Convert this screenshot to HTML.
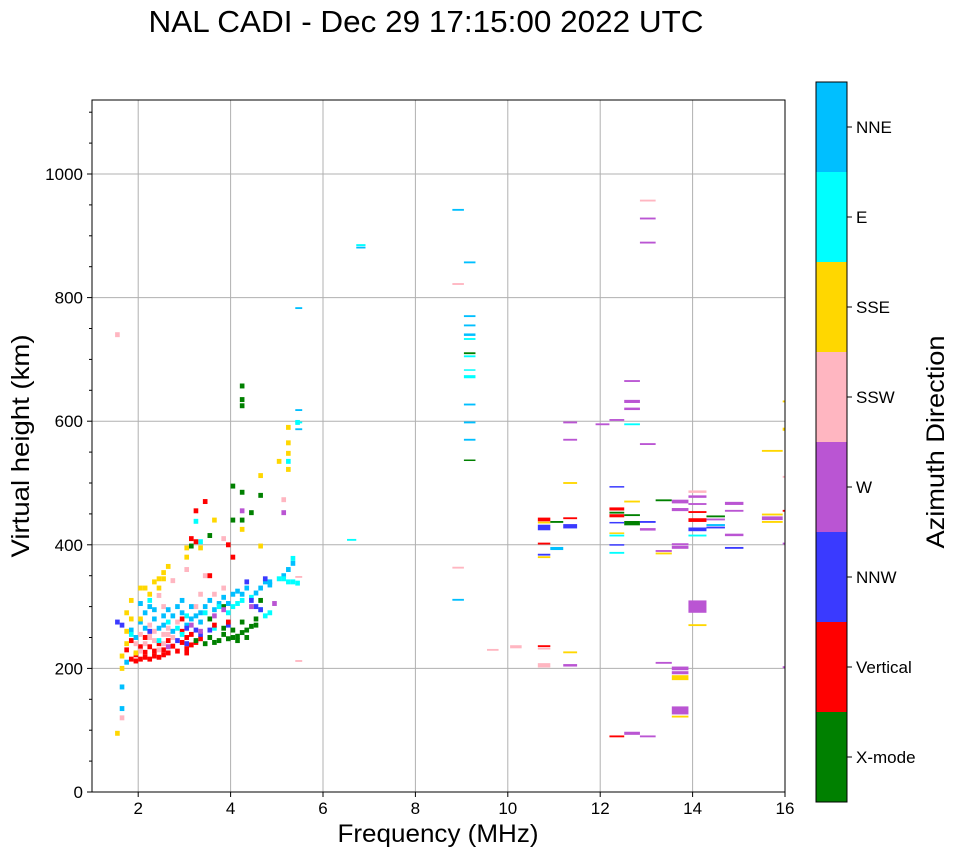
<!DOCTYPE html>
<html><head><meta charset="utf-8"><style>
body{margin:0;background:#fff;}
svg text{font-family:"Liberation Sans",sans-serif;fill:#000;}
</style></head><body>
<svg id="chart" width="958" height="857" viewBox="0 0 958 857" xmlns="http://www.w3.org/2000/svg">
<text x="426" y="32" font-size="31" text-anchor="middle" textLength="555" lengthAdjust="spacingAndGlyphs">NAL CADI - Dec 29 17:15:00 2022 UTC</text>
<g id="grid"></g>
<g id="marks"></g>
<rect x="92" y="100" width="693" height="692" fill="none" stroke="#000" stroke-width="1"/>
<g id="axes"></g>
<text x="438" y="842" font-size="25" text-anchor="middle" textLength="201" lengthAdjust="spacingAndGlyphs">Frequency (MHz)</text>
<text transform="translate(29,446) rotate(-90)" font-size="25" text-anchor="middle" textLength="223" lengthAdjust="spacingAndGlyphs">Virtual height (km)</text>
<g id="cbar"></g>
<text transform="translate(944,442) rotate(-90)" font-size="25" text-anchor="middle" textLength="213" lengthAdjust="spacingAndGlyphs">Azimuth Direction</text>
</svg>
<script>
const categories = ["X-mode","Vertical","NNW","W","SSW","SSE","E","NNE"];
const catColors = ["#008000","#ff0000","#3a3aff","#ba55d3","#ffb6c1","#ffd700","#00ffff","#00bfff"];
const xTicks = [2,4,6,8,10,12,14,16];
const yTicks = [0,200,400,600,800,1000];
// dense cells: [freq MHz, height km, category]
const denseCells = [
[1.8,215,1],[1.9,212,1],[2.0,215,1],[2.1,218,1],[2.2,215,1],[2.3,220,1],[2.4,218,1],[2.5,222,1],[2.6,225,1],[2.8,228,1],[3.0,232,1],[3.1,238,1],[3.2,242,1],[2.2,235,1],[2.4,240,1],[2.1,250,1],[2.6,245,1],[3.0,250,1],[2.9,260,1],[3.3,248,1],[1.7,230,1],[1.8,245,1],[2.0,235,1],
[2.3,228,1],[2.5,230,1],[2.7,236,1],[2.9,242,1],[3.1,255,1],[1.9,222,1],[2.1,226,1],[3.0,225,1],
[3.4,240,0],[3.6,242,0],[3.7,245,0],[3.9,248,0],[4.0,250,0],[4.1,252,0],[4.2,258,0],[4.3,262,0],[4.4,268,0],[4.5,270,0],[4.0,262,0],[4.2,275,0],[3.8,265,0],[4.5,280,0],[4.6,310,0],[3.5,280,0],[4.2,440,0],[4.2,657,0],[4.2,635,0],[4.2,625,0],[4.0,495,0],[4.2,485,0],[4.6,480,0],[4.4,452,0],[3.5,415,0],[3.1,398,0],[3.8,300,0],
[3.5,250,0],[3.8,255,0],[4.1,245,0],[4.3,250,0],[4.0,440,0],[3.2,245,0],
[2.1,240,4],[2.2,250,4],[2.3,260,4],[2.5,255,4],[2.6,265,4],[2.2,270,4],[2.0,255,4],[2.8,275,4],[2.5,300,4],[2.4,318,4],[2.7,342,4],[3.0,360,4],[3.4,350,4],[3.6,320,4],[3.2,300,4],[1.9,240,4],[1.6,120,4],[1.5,740,4],[5.1,473,4],[3.8,410,4],
[2.3,245,4],[2.4,230,4],[2.5,240,4],[2.7,250,4],[2.2,258,4],[2.6,255,4],[2.0,228,4],[3.3,320,4],[3.8,330,4],
[1.9,250,7],[2.0,275,7],[2.1,290,7],[2.2,300,7],[2.3,280,7],[2.4,265,7],[2.5,285,7],[2.6,295,7],[2.8,300,7],[2.9,310,7],[3.1,300,7],[3.3,290,7],[3.5,310,7],[3.7,305,7],[3.8,315,7],[4.0,320,7],[4.1,325,7],[4.3,330,7],[4.6,330,7],[4.7,340,7],[4.8,335,7],[5.1,350,7],[5.3,370,7],[2.0,305,7],[1.6,170,7],[1.6,135,7],[3.2,285,7],[4.5,322,7],[2.7,260,7],[3.0,270,7],
[2.1,265,7],[2.3,295,7],[2.5,270,7],[2.7,285,7],[2.9,290,7],[3.1,280,7],[3.3,275,7],[3.4,300,7],[3.6,295,7],[3.9,305,7],[4.2,320,7],[4.8,340,7],[5.2,360,7],[1.8,262,7],[1.7,210,7],
[2.2,310,6],[2.6,275,6],[3.0,285,6],[3.3,405,6],[3.2,438,6],[4.0,300,6],[4.2,310,6],[4.4,315,6],[4.6,295,6],[5.0,345,6],[5.2,340,6],[5.4,338,6],[5.3,378,6],[5.2,535,6],[5.4,598,6],[1.8,255,6],[2.4,245,6],[3.6,265,6],[2.9,255,6],[4.7,285,6],
[3.4,290,6],[3.7,300,6],[3.9,290,6],[4.1,305,6],[5.1,345,6],[5.3,340,6],[2.8,265,6],[4.8,290,6],
[1.6,270,2],[2.2,260,2],[2.8,245,2],[3.0,240,2],[3.3,255,2],[3.5,262,2],[3.9,270,2],[4.4,310,2],[4.6,295,2],[4.3,340,2],[4.7,345,2],[3.0,265,2],[1.5,275,2],
[3.2,262,2],[4.5,300,2],
[2.6,235,3],[3.1,270,3],[3.6,285,3],[4.4,300,3],[4.9,305,3],[3.8,295,3],[4.2,455,3],[5.1,452,3],[3.3,260,3],
[1.5,95,5],[1.6,200,5],[1.7,260,5],[1.7,290,5],[1.8,310,5],[1.9,225,5],[2.0,330,5],[2.2,320,5],[2.3,340,5],[2.4,345,5],[2.5,355,5],[2.6,365,5],[2.0,280,5],[3.0,395,5],[3.0,380,5],[3.3,395,5],[3.6,440,5],[4.2,425,5],[4.6,512,5],[4.6,398,5],[5.2,522,5],[5.2,548,5],[5.2,565,5],[5.2,590,5],[5.0,535,5],[2.4,330,5],
[1.6,220,5],[1.7,240,5],[1.8,280,5],[2.1,330,5],[2.5,345,5],
[3.1,410,1],[3.2,405,1],[3.4,470,1],[3.2,455,1],[3.9,400,1],[3.5,350,1],[2.9,280,1],[3.6,270,1],[4.0,380,1],[3.9,275,1]
];
// wide cells: [freq start, freq end, height km, span km, category]
const wideCells = [
[10.65,10.92,441,6,1],[10.65,10.92,436,3,5],[10.65,10.92,428,9,2],[10.65,10.92,402,3,1],[10.65,10.92,384,3,2],[10.65,10.92,380,3,5],[10.65,10.92,236,3,1],[10.65,10.92,232,3,4],[10.65,10.92,205,7,4],
[10.92,11.2,437,3,0],[10.92,11.2,394,5,7],[11.2,11.5,598,3,3],[11.2,11.5,570,3,3],[11.2,11.5,500,3,5],[11.2,11.5,443,3,1],[11.2,11.5,430,7,2],[11.2,11.5,226,3,5],[11.2,11.5,205,4,3],
[11.9,12.2,595,3,3],[12.2,12.52,602,3,3],[12.2,12.52,494,2,2],[12.2,12.52,458,5,1],[12.2,12.52,452,3,0],[12.2,12.52,447,5,1],[12.2,12.52,436,2,2],[12.2,12.52,415,3,6],[12.2,12.52,419,2,5],[12.2,12.52,400,2,2],[12.2,12.52,387,3,6],[12.2,12.52,90,3,1],
[12.52,12.86,665,3,3],[12.52,12.86,632,5,3],[12.52,12.86,620,4,3],[12.52,12.86,595,3,6],[12.52,12.86,470,3,5],[12.52,12.86,448,3,0],[12.52,12.86,435,7,0],[12.52,12.86,95,5,3],
[12.86,13.2,957,3,4],[12.86,13.2,928,3,3],[12.86,13.2,889,3,3],[12.86,13.2,563,3,3],[12.86,13.2,437,3,2],[12.86,13.2,425,4,3],[12.86,13.2,90,3,3],
[13.2,13.55,472,3,0],[13.2,13.55,209,3,3],[13.2,13.55,390,3,3],[13.2,13.55,386,3,5],
[13.55,13.91,470,6,3],[13.55,13.91,457,5,3],[13.55,13.91,401,3,3],[13.55,13.91,396,5,3],[13.55,13.91,200,6,3],[13.55,13.91,193,5,3],[13.55,13.91,185,8,5],[13.55,13.91,132,13,3],[13.55,13.91,122,3,5],
[13.91,14.3,486,4,4],[13.91,14.3,478,4,3],[13.91,14.3,466,3,3],[13.91,14.3,453,3,1],[13.91,14.3,440,6,1],[13.91,14.3,425,6,2],[13.91,14.3,415,3,6],[13.91,14.3,300,20,3],[13.91,14.3,270,3,5],
[14.3,14.7,446,3,0],[14.3,14.7,441,3,3],[14.3,14.7,432,3,7],[14.3,14.7,428,3,2],
[14.7,15.1,467,5,3],[14.7,15.1,455,3,3],[14.7,15.1,416,4,3],[14.7,15.1,395,3,2],
[15.5,15.95,552,3,5],[15.5,15.95,449,3,5],[15.5,15.95,443,6,3],[15.5,15.95,437,3,5],
[15.95,16,632,3,5],[15.95,16,587,5,5],[15.95,16,510,3,4],[15.95,16,455,3,1],[15.95,16,402,3,3],[15.95,16,202,3,3],
[8.8,9.05,942,3,7],[8.8,9.05,822,3,4],[8.8,9.05,363,3,4],[8.8,9.05,311,3,7],
[9.05,9.3,857,3,7],[9.05,9.3,770,3,7],[9.05,9.3,755,3,7],[9.05,9.3,740,4,7],[9.05,9.3,733,3,6],[9.05,9.3,710,3,0],[9.05,9.3,705,3,6],[9.05,9.3,683,2,6],[9.05,9.3,672,5,6],[9.05,9.3,627,3,7],[9.05,9.3,598,3,7],[9.05,9.3,570,3,7],[9.05,9.3,537,2,0],
[9.55,9.8,230,3,4],[10.05,10.3,235,5,4],[6.72,6.92,885,3,6],[6.72,6.92,881,3,7],[6.52,6.72,408,3,6],
[5.4,5.55,783,3,7],[5.4,5.55,618,3,7],[5.4,5.55,598,3,6],[5.4,5.55,587,3,7],[5.4,5.55,348,3,4],[5.4,5.55,212,3,4]
];
const NS="http://www.w3.org/2000/svg";
const X0=92,X1=785,Y0=792,Y1=100;
function xs(f){return X0+(f-1)/15*(X1-X0);}
function ys(h){return Y0-h*0.618;}
function mk(tag,attrs,parent){const e=document.createElementNS(NS,tag);for(const k in attrs)e.setAttribute(k,attrs[k]);parent.appendChild(e);return e;}
const grid=document.getElementById('grid'),axes=document.getElementById('axes'),marks=document.getElementById('marks'),cbar=document.getElementById('cbar');
xTicks.forEach(t=>{const x=xs(t);
 if(t<16){const l=mk('line',{x1:x,x2:x,y1:Y1,y2:Y0,stroke:'#b0b0b0','stroke-width':1},grid);
 
 }
 mk('line',{x1:x,x2:x,y1:Y0,y2:Y0+5,stroke:'#000'},axes);
 const tx=mk('text',{x:x,y:Y0+22,'font-size':17,'text-anchor':'middle'},axes);tx.textContent=t;
 
 });
yTicks.forEach(t=>{const y=ys(t);
 if(t>0){const l=mk('line',{x1:X0,x2:X1,y1:y,y2:y,stroke:'#b0b0b0','stroke-width':1},grid);
 
 }
 mk('line',{x1:X0-5,x2:X0,y1:y,y2:y,stroke:'#000'},axes);
 const tx=mk('text',{x:X0-9,y:y+6,'font-size':17,'text-anchor':'end'},axes);tx.textContent=t;
 
 });
for(let h=50;h<1120;h+=50){if(h%200)mk('line',{x1:X0-3,x2:X0,y1:ys(h),y2:ys(h),stroke:'#000'},axes);}
denseCells.forEach(d=>{const x=xs(d[0]),w=xs(d[0]+0.1)-x;const r=mk('rect',{x:x,y:ys(d[1]+4),width:w,height:ys(d[1]-4)-ys(d[1]+4),fill:catColors[d[2]]},marks);
 
 });
wideCells.forEach(d=>{const x=xs(d[0]);const r=mk('rect',{x:x,y:ys(d[2]+d[3]/2),width:xs(d[1])-x,height:Math.max(1.5,d[3]*0.618),fill:catColors[d[4]]},marks);
 
 });
const CB0=82,CB1=802,seg=(CB1-CB0)/categories.length;
categories.forEach((c,i)=>{const y=CB1-(i+1)*seg;
 const r=mk('rect',{x:816,y:y,width:31,height:seg,fill:catColors[i]},cbar);
 
 
 mk('line',{x1:847,x2:852,y1:y+seg/2,y2:y+seg/2,stroke:'#000'},cbar);
 const t=mk('text',{x:856,y:y+seg/2+6,'font-size':17},cbar);t.textContent=c;
 
 });
mk('rect',{x:816,y:CB0,width:31,height:CB1-CB0,fill:'none',stroke:'#000'},cbar);
</script>
</body></html>
